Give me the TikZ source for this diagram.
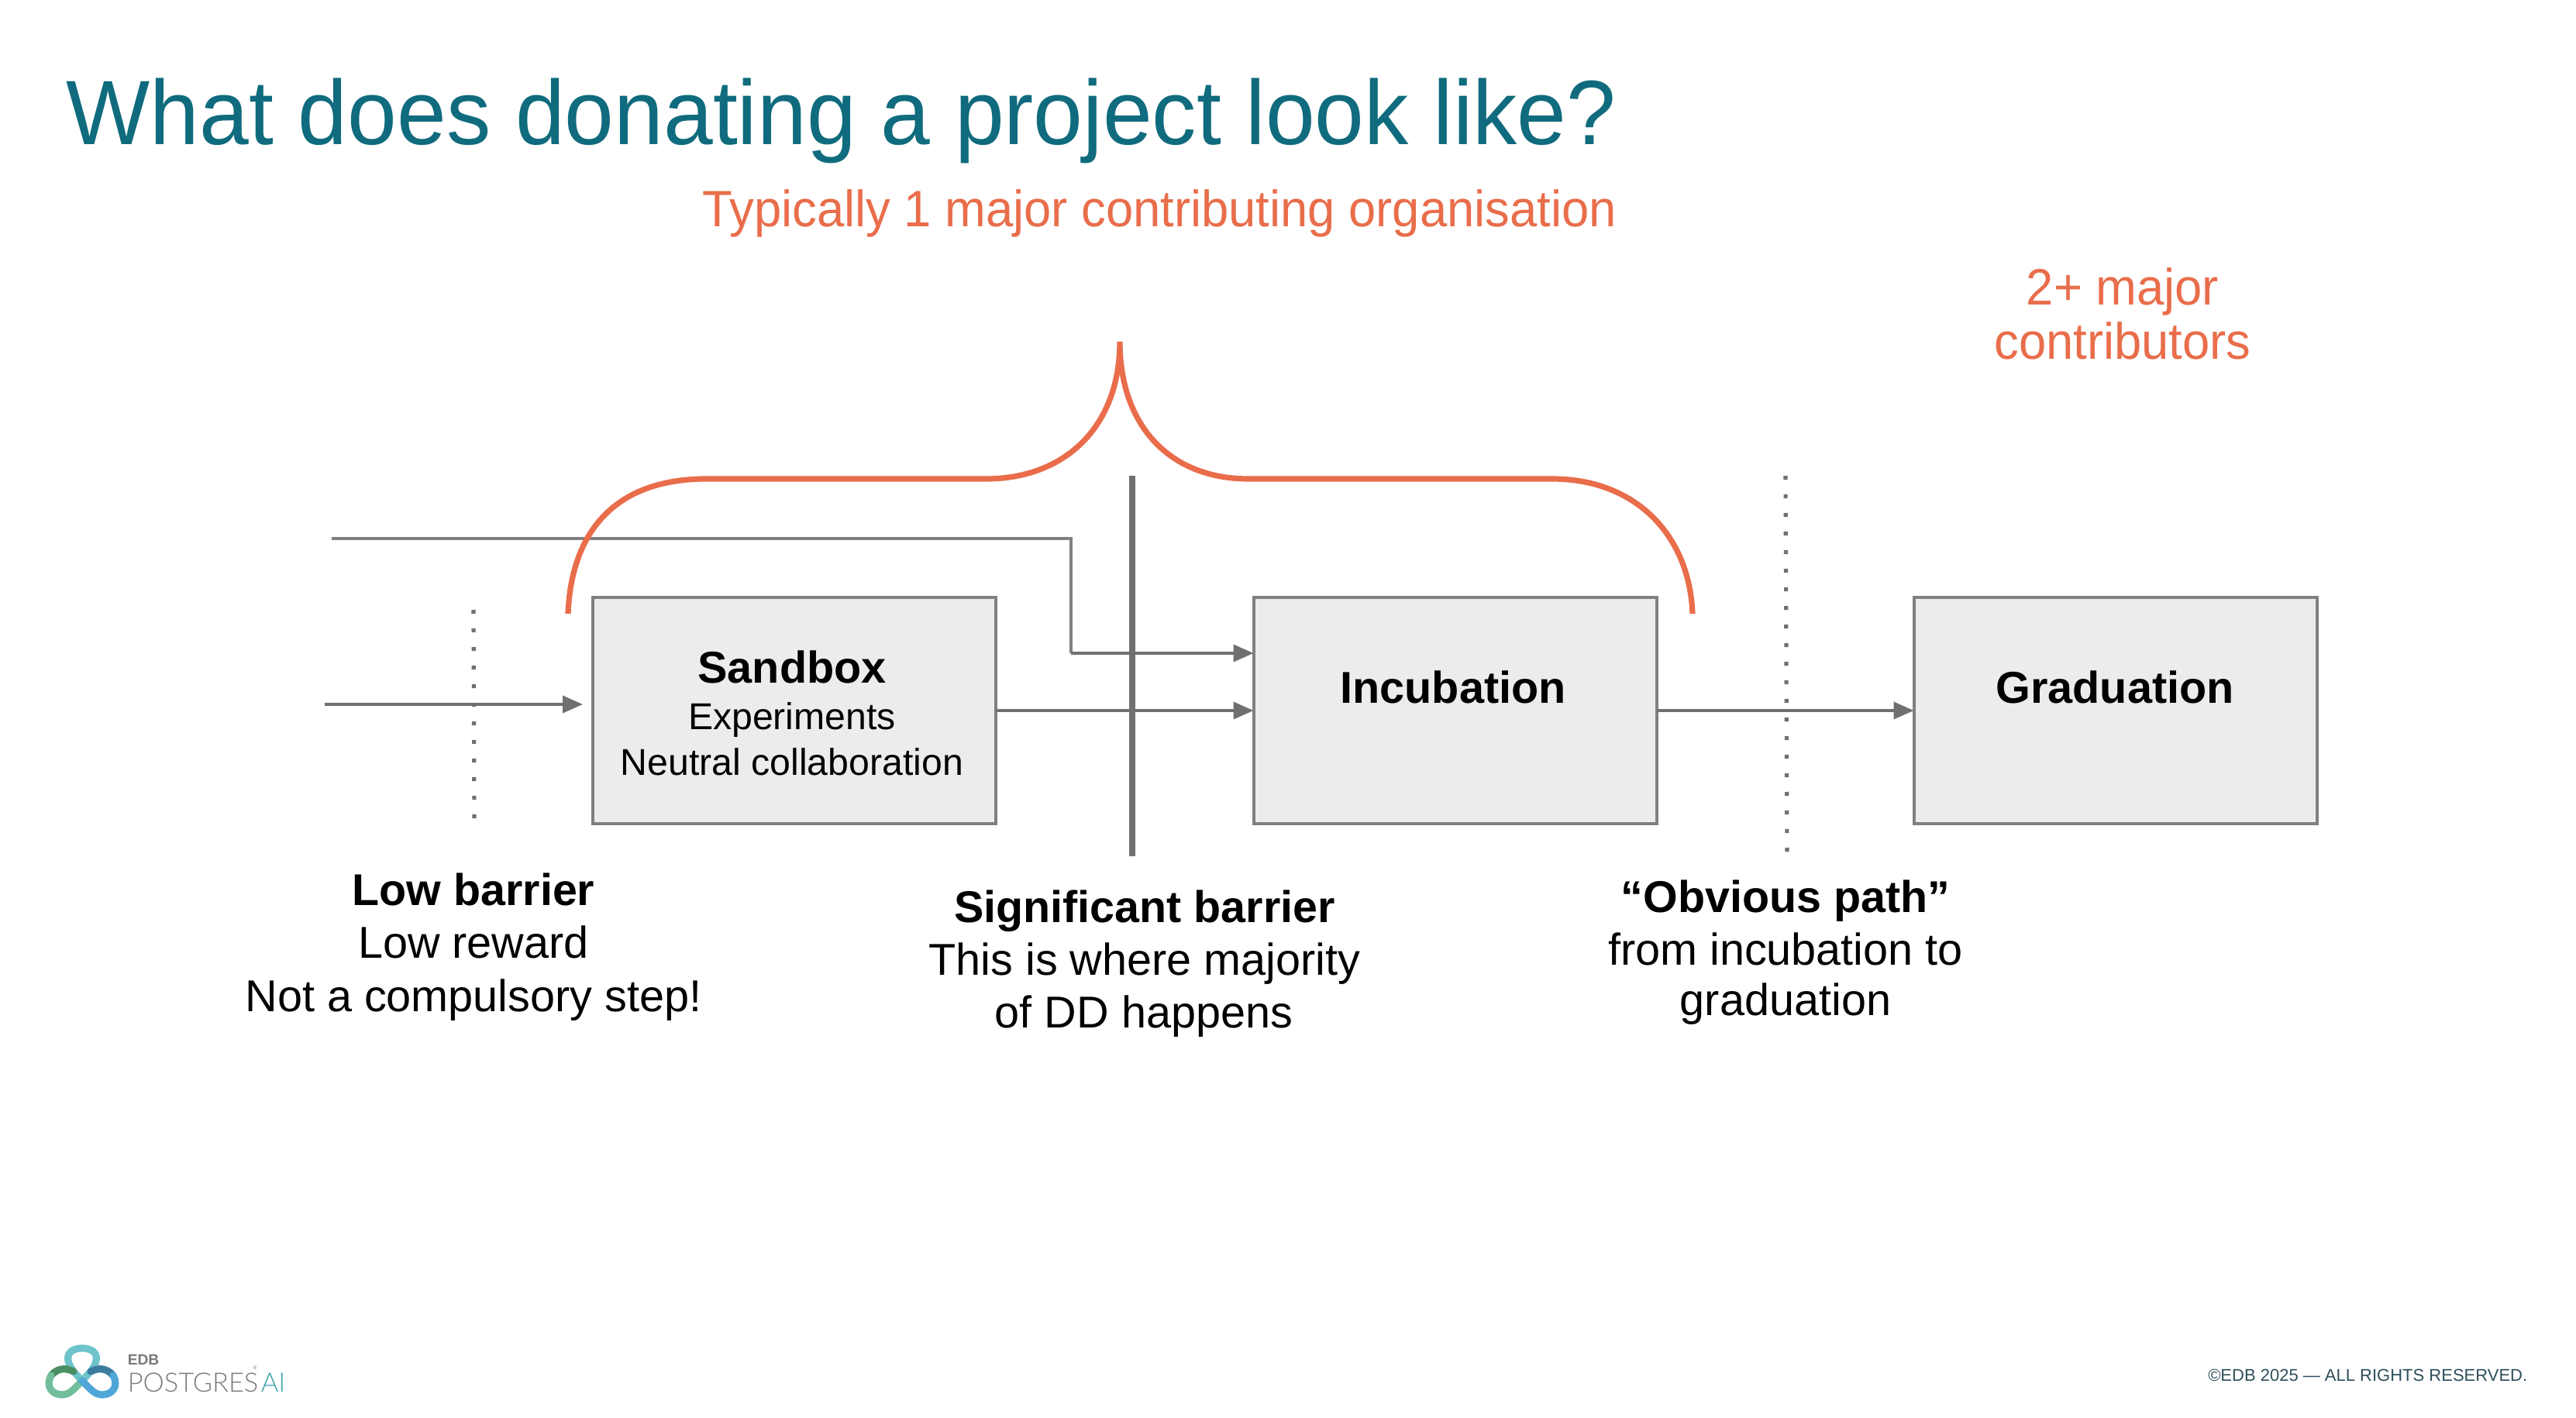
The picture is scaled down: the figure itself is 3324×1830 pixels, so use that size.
\documentclass[tikz,border=0pt]{standalone}
\usepackage{fontspec}
\setmainfont{Liberation Sans}
\newfontfamily\lightfont{Lato Light}
\newfontfamily\titlefont[FakeStretch=0.971]{Liberation Sans}
\newfontfamily\accentfont[FakeStretch=0.96]{Liberation Sans}
\usetikzlibrary{arrows.meta}
\definecolor{titleteal}{HTML}{0F6B7D}
\definecolor{accent}{HTML}{E96D4A}
\definecolor{boxfill}{HTML}{ECECEC}
\definecolor{boxline}{HTML}{808080}
\definecolor{flow}{HTML}{707070}
\definecolor{logoteal}{HTML}{3FA3AA}
\definecolor{logogrey}{HTML}{7A7A7A}
\definecolor{foot}{HTML}{2F4F5C}
\definecolor{lgtop}{HTML}{6FC3CB}
\definecolor{lgdkgreen}{HTML}{4A8F63}
\definecolor{lgltgreen}{HTML}{70BE9B}
\definecolor{lgdkblue}{HTML}{3A7C9E}
\definecolor{lgltblue}{HTML}{4FA6D8}
\tikzset{
  x=0.25pt,y=-0.25pt,
  stagebox/.style={draw=boxline,line width=1pt,fill=boxfill,minimum width=130pt,minimum height=73pt,inner sep=0pt,outer sep=0pt},
  flowline/.style={draw=flow,line width=0.9pt,-{Triangle[length=6.5pt,width=5.5pt]}},
  plainline/.style={draw=boxline,line width=1.1pt},
  gate/.style={draw=flow,line width=1.3pt,dash pattern=on 1.3pt off 4.7pt},
  hardgate/.style={draw=flow,line width=2pt},
  bracecurve/.style={draw=accent,line width=1.8pt},
  txt/.style={anchor=base,inner sep=0pt,outer sep=0pt,text=black},
  boxhead/.style={txt,font=\fontsize{14.4}{16}\selectfont\bfseries},
  boxsub/.style={txt,font=\fontsize{12.05}{14}\selectfont},
  notehead/.style={txt,font=\fontsize{14.35}{16}\selectfont\bfseries},
  notebody/.style={txt,font=\fontsize{14.4}{16}\selectfont},
  accenttxt/.style={anchor=base,inner sep=0pt,outer sep=0pt,text=accent,font=\accentfont\fontsize{16.5}{18}\selectfont},
  loopstroke/.style={line width=2.3pt,line cap=round},
}
\begin{document}
\begin{tikzpicture}
\useasboundingbox[fill=white] (0,0) rectangle (3324,1830);
% title
\node[anchor=base west,inner sep=0pt,text=titleteal,font=\titlefont\fontsize{29.5}{34}\selectfont] (title) at (85,187) {What does donating a project look like?};
\node[accenttxt,anchor=base east] (typ) at (2086,293) {Typically 1 major contributing organisation};
\node[accenttxt] (two) at (2739,394) {2+ major};
\node[accenttxt] (contrib) at (2739,464) {contributors};
% stage boxes
\node[stagebox] (sandbox) at (1024.5,917) {};
\node[stagebox] (incubation) at (1877.5,917) {};
\node[stagebox] (graduation) at (2729.5,917) {};
\node[boxhead] (sbh) at (1022,881) {Sandbox};
\node[boxsub] (sb1) at (1022,941) {Experiments};
\node[boxsub] (sb2) at (1022,1000) {Neutral collaboration};
\node[boxhead] (inch) at (1875,907) {Incubation};
\node[boxhead] (grah) at (2729,907) {Graduation};
% free ends
\coordinate (inA) at (419,909);
\coordinate (inB) at (752,909);
\coordinate (topA) at (428,695);
\coordinate (topB) at (1382,695);
\coordinate (topC) at (1382,843);
\coordinate (dotLa) at (611,787);
\coordinate (dotLb) at (612,1060);
\coordinate (barA) at (1461,614);
\coordinate (barB) at (1461,1105);
\coordinate (dotRa) at (2304,614);
\coordinate (dotRb) at (2306,1106);
% flows
\draw[gate] (dotLa) -- (dotLb);
\draw[gate] (dotRa) -- (dotRb);
\draw[flowline] (inA) -- (inB);
\draw[plainline] (topA) -- (topB) -- (topC);
\draw[flowline] (topC) -- (incubation.west |- topC);
\draw[flowline] (sandbox.east) -- (incubation.west);
\draw[flowline] (incubation.east) -- (graduation.west);
\draw[hardgate] (barA) -- (barB);
% brace
\coordinate (brL) at (733,792);
\coordinate (brTip) at (1445,441);
\coordinate (brR) at (2184,792);
\draw[bracecurve] (brL) .. controls (737,690) and (790,618) .. (912,618) -- (1272,618)
  .. controls (1375,618) and (1445,550) .. (brTip)
  .. controls (1445,550) and (1510,618) .. (1611,618) -- (2003,618)
  .. controls (2110,618) and (2180,690) .. (brR);
% notes
\node[notehead] (n1a) at (611,1168) {Low barrier};
\node[notebody] (n1b) at (611,1236) {Low reward};
\node[notebody] (n1c) at (611,1305) {Not a compulsory step!};
\node[notehead] (n2a) at (1477,1190) {Significant barrier};
\node[notebody] (n2b) at (1477,1258) {This is where majority};
\node[notebody] (n2c) at (1476,1326) {of DD happens};
\node[notehead] (n3a) at (2304,1177) {“Obvious path”};
\node[notebody] (n3b) at (2304,1245) {from incubation to};
\node[notebody] (n3c) at (2304,1310) {graduation};
% footer
\node[anchor=base east,inner sep=0pt,text=foot,font=\fontsize{5.5}{7}\selectfont] (copy) at (3262,1782) {©EDB 2025 — ALL RIGHTS RESERVED.};
% logo
\draw[loopstroke,draw=lgtop] (106,1782) -- (95,1770) .. controls (80,1750) and (90,1740) .. (106,1740) .. controls (122,1740) and (132,1750) .. (117,1770) -- (106,1782);
\draw[loopstroke,draw=lgdkgreen] (95,1770) .. controls (85,1765) and (75,1765) .. (66,1775);
\draw[loopstroke,draw=lgltgreen] (66,1775) .. controls (58,1790) and (68,1800) .. (80,1800) .. controls (90,1800) and (96,1792) .. (106,1782);
\draw[loopstroke,draw=lgdkblue] (117,1770) .. controls (127,1765) and (137,1765) .. (146,1775);
\draw[loopstroke,draw=lgltblue] (146,1775) .. controls (154,1790) and (144,1800) .. (132,1800) .. controls (122,1800) and (116,1792) .. (106,1782);
\node[anchor=base west,inner sep=0pt,text=logogrey,font=\fontsize{4.8}{6}\selectfont\bfseries] (edb) at (164,1761) {EDB};
\node[anchor=base west,inner sep=0pt,text=logogrey,font=\lightfont\fontsize{8.6}{10}\selectfont] (pg) at (164,1796) {POSTGRES};
\node[anchor=base west,inner sep=0pt,text=logoteal,font=\lightfont\fontsize{8.6}{10}\selectfont] (ai) at (336,1796) {AI};
\node[anchor=base,inner sep=0pt,text=logogrey,font=\fontsize{1.6}{2}\selectfont] (reg) at (329,1767) {®};
\end{tikzpicture}
\end{document}
